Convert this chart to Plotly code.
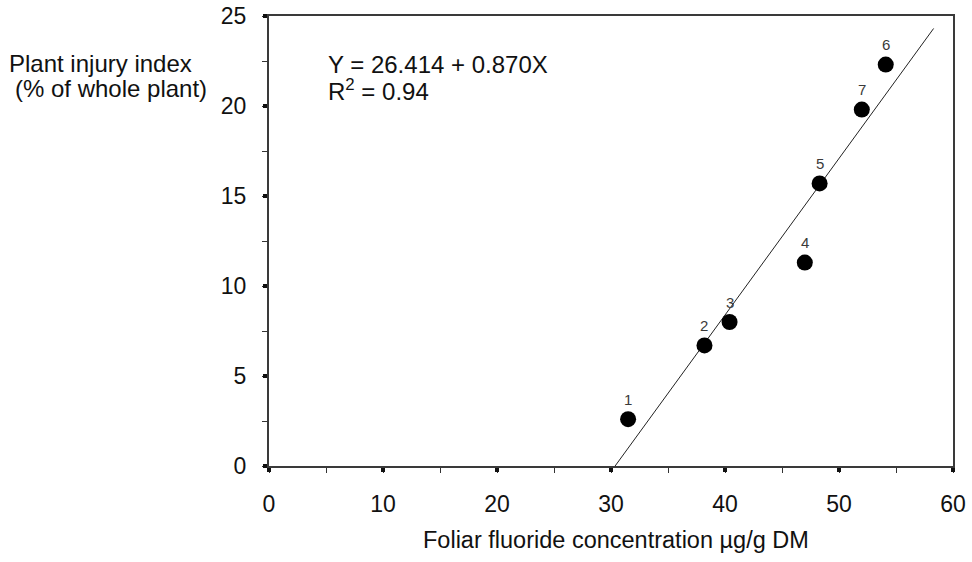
import plotly.graph_objects as go

# Data
point_labels = ["1", "2", "3", "4", "5", "6", "7"]
fluoride = [31.5, 38.2, 40.4, 47.0, 48.3, 54.1, 52.0]
injury = [2.6, 6.7, 8.0, 11.3, 15.7, 22.3, 19.8]

fit_intercept = -26.414
fit_slope = 0.870
fit_x = [30.36, 58.3]
fit_y = [fit_intercept + fit_slope * v for v in fit_x]

x_ticks = [0, 10, 20, 30, 40, 50, 60]
y_ticks = [0, 5, 10, 15, 20, 25]

FONT = "Liberation Sans, Arial, sans-serif"
AXC = "#3a3a3a"
TXT = "#111"

fig = go.Figure()
fig.add_trace(go.Scatter(x=fit_x, y=fit_y, mode="lines",
                         line=dict(color="#222", width=1), hoverinfo="skip"))
fig.add_trace(go.Scatter(x=fluoride, y=injury, mode="markers",
                         marker=dict(color="black", size=16)))

for lab, xv, yv in zip(point_labels, fluoride, injury):
    fig.add_annotation(x=xv, y=yv, text=lab, showarrow=False, yshift=20,
                       font=dict(family=FONT, size=15, color="#3a3a3a"))

def note(text, x, y, size, xanchor="left"):
    fig.add_annotation(xref="paper", yref="paper", x=x, y=y, xanchor=xanchor,
                       yanchor="middle", text=text, showarrow=False,
                       font=dict(family=FONT, size=size, color=TXT))

note("Y = 26.414 + 0.870X", 0.0833, 0.892, 24)
note("R<sup>2</sup> = 0.94", 0.0833, 0.836, 24)
note("Plant injury index", -0.383, 0.8947, 24)
note("(% of whole plant)", -0.3745, 0.8400, 24)
note("Foliar fluoride concentration µg/g DM", 0.5075, -0.165, 23.5, xanchor="center")

fig.update_layout(
    width=972, height=562,
    margin=dict(l=269, r=19, t=15.5, b=95.5),
    paper_bgcolor="white", plot_bgcolor="white",
    showlegend=False,
    font=dict(family=FONT, size=23, color=TXT),
    xaxis=dict(range=[0, 60], tickvals=x_ticks, showgrid=False, zeroline=False,
               automargin=False,
               showline=True, linecolor=AXC, linewidth=2, mirror=True,
               ticks="outside", ticklen=4, tickwidth=4, tickcolor="#111",
               ticklabelstandoff=12,
               minor=dict(dtick=5, ticks="outside", ticklen=5, tickwidth=1, tickcolor="#333")),
    yaxis=dict(range=[0, 25], tickvals=y_ticks, showgrid=False, zeroline=False,
               automargin=False,
               showline=True, linecolor=AXC, linewidth=2, mirror=True,
               ticks="outside", ticklen=4, tickwidth=4, tickcolor="#111",
               ticklabelstandoff=12,
               minor=dict(dtick=2.5, ticks="outside", ticklen=5, tickwidth=1, tickcolor="#333")),
)

# remove the default page margin so the 972x562 figure fills the window exactly
fig.write_html("out.html", config={"displayModeBar": False},
               post_script="document.body.style.margin='0';document.body.style.overflow='hidden';")
